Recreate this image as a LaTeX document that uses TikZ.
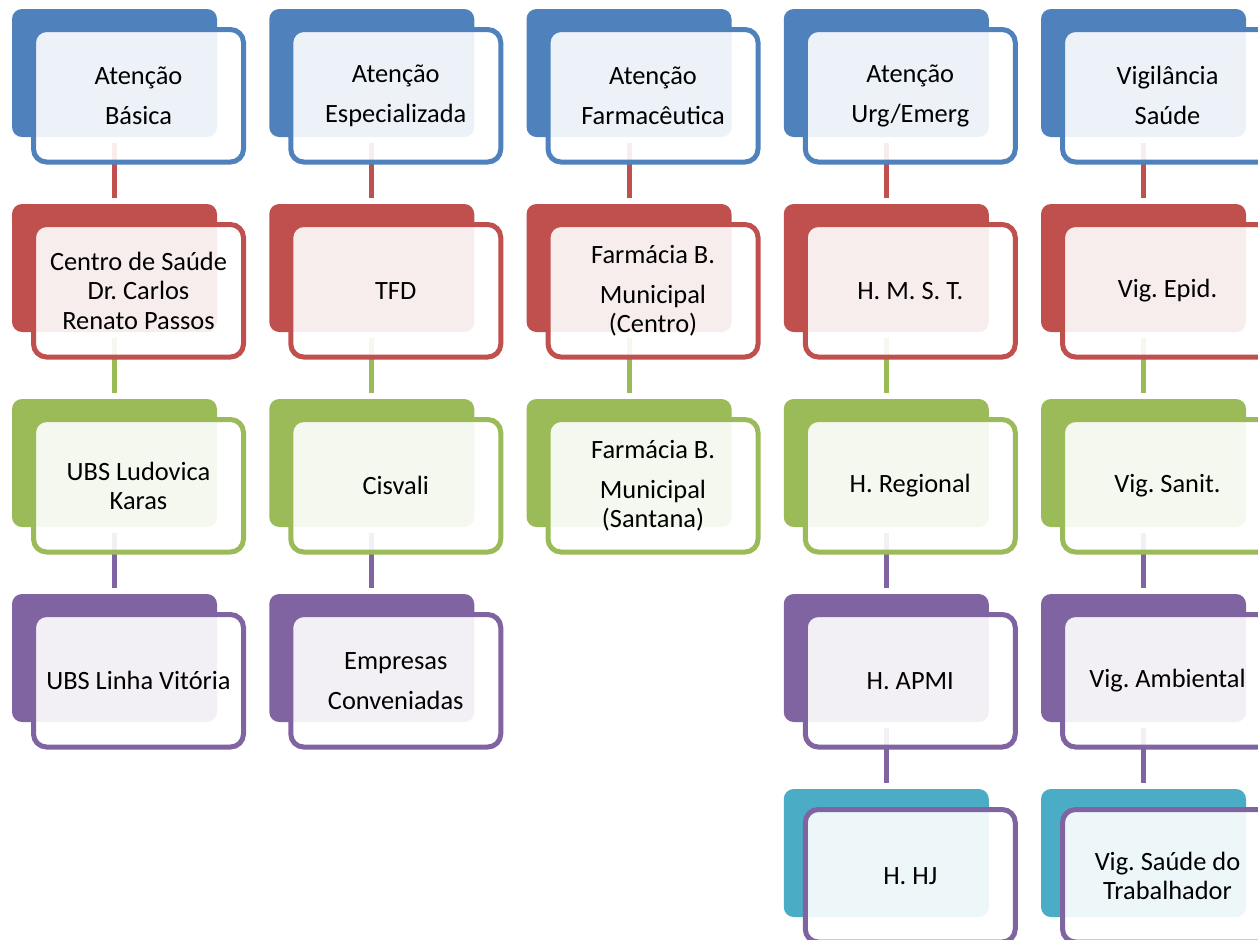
\documentclass[tikz,border=0pt]{standalone}
\usepackage{fontspec}
\setmainfont{Carlito}
\frenchspacing

\definecolor{azul}{HTML}{4F81BD}
\definecolor{verm}{HTML}{C0504D}
\definecolor{verde}{HTML}{9BBB59}
\definecolor{roxo}{HTML}{8064A2}
\definecolor{aqua}{HTML}{4BACC6}

\tikzset{
  fundo/.style={rounded corners=5pt, minimum width=102.5pt, minimum height=64pt, inner sep=0pt, outer sep=0pt},
  caixa/.style={draw, line width=2.5pt, fill=white, fill opacity=0.9, text opacity=1,
    rounded corners=6.5pt, minimum width=105pt, minimum height=66.25pt, inner sep=0pt,
    align=center, font=\fontsize{13.2}{14.75}\selectfont},
  liga/.style={line width=2.5pt, shorten <=3pt, shorten >=3pt},
}

\begin{document}
\begin{tikzpicture}[x=0.5pt, y=-0.5pt]
    \useasboundingbox (0,0) rectangle (1258,939);
    \clip (0,0) rectangle (1258,939);

    % ===== Atenção Básica =====
    \def\xA{114.5}
    \node[fundo, fill=azul] (a1) at (\xA, 73) {};
    \node[fundo, fill=verm] (a2) at (\xA, 268) {};
    \node[fundo, fill=verde] (a3) at (\xA, 463) {};
    \node[fundo, fill=roxo] (a4) at (\xA, 658) {};
    \draw[liga, verm] (a1.south) -- (a2.north);
    \draw[liga, verde] (a2.south) -- (a3.north);
    \draw[liga, roxo] (a3.south) -- (a4.north);
    \node[caixa, draw=azul] (ta1) at (\xA+24, 95.75) {Atenção\\[5.25pt] Básica};
    \node[caixa, draw=verm] (ta2) at (\xA+24, 290.75) {Centro de Saúde\\ Dr. Carlos\\ Renato Passos};
    \node[caixa, draw=verde] (ta3) at (\xA+24, 485.75) {UBS Ludovica\\ Karas};
    \node[caixa, draw=roxo] (ta4) at (\xA+24, 680.75) {UBS Linha Vitória};

    % ===== Atenção Especializada =====
    \def\xB{371.75}
    \node[fundo, fill=azul] (b1) at (\xB, 73) {};
    \node[fundo, fill=verm] (b2) at (\xB, 268) {};
    \node[fundo, fill=verde] (b3) at (\xB, 463) {};
    \node[fundo, fill=roxo] (b4) at (\xB, 658) {};
    \draw[liga, verm] (b1.south) -- (b2.north);
    \draw[liga, verde] (b2.south) -- (b3.north);
    \draw[liga, roxo] (b3.south) -- (b4.north);
    \node[caixa, draw=azul] (tb1) at (\xB+24, 95.75) {Atenção\\[5.25pt] Especializada};
    \node[caixa, draw=verm] (tb2) at (\xB+24, 290.75) {TFD};
    \node[caixa, draw=verde] (tb3) at (\xB+24, 485.75) {Cisvali};
    \node[caixa, draw=roxo] (tb4) at (\xB+24, 680.75) {Empresas\\[5.25pt] Conveniadas};

    % ===== Atenção Farmacêutica =====
    \def\xC{629}
    \node[fundo, fill=azul] (c1) at (\xC, 73) {};
    \node[fundo, fill=verm] (c2) at (\xC, 268) {};
    \node[fundo, fill=verde] (c3) at (\xC, 463) {};
    \draw[liga, verm] (c1.south) -- (c2.north);
    \draw[liga, verde] (c2.south) -- (c3.north);
    \node[caixa, draw=azul] (tc1) at (\xC+24, 95.75) {Atenção\\[5.25pt] Farmacêutica};
    \node[caixa, draw=verm] (tc2) at (\xC+24, 290.75) {Farmácia B.\\[5.25pt] Municipal\\ (Centro)};
    \node[caixa, draw=verde] (tc3) at (\xC+24, 485.75) {Farmácia B.\\[5.25pt] Municipal\\ (Santana)};

    % ===== Atenção Urg/Emerg =====
    \def\xD{886.25}
    \node[fundo, fill=azul] (d1) at (\xD, 73) {};
    \node[fundo, fill=verm] (d2) at (\xD, 268) {};
    \node[fundo, fill=verde] (d3) at (\xD, 463) {};
    \node[fundo, fill=roxo] (d4) at (\xD, 658) {};
    \node[fundo, fill=aqua] (d5) at (\xD, 853) {};
    \draw[liga, verm] (d1.south) -- (d2.north);
    \draw[liga, verde] (d2.south) -- (d3.north);
    \draw[liga, roxo] (d3.south) -- (d4.north);
    \draw[liga, roxo] (d4.south) -- (d5.north);
    \node[caixa, draw=azul] (td1) at (\xD+24, 95.75) {Atenção\\[5.25pt] Urg/Emerg};
    \node[caixa, draw=verm] (td2) at (\xD+24, 290.75) {H. M. S. T.};
    \node[caixa, draw=verde] (td3) at (\xD+24, 485.75) {H. Regional};
    \node[caixa, draw=roxo] (td4) at (\xD+24, 680.75) {H. APMI};
    \node[caixa, draw=roxo] (td5) at (\xD+24, 875.75) {H. HJ};

    % ===== Vigilância Saúde =====
    \def\xE{1143.5}
    \node[fundo, fill=azul] (e1) at (\xE, 73) {};
    \node[fundo, fill=verm] (e2) at (\xE, 268) {};
    \node[fundo, fill=verde] (e3) at (\xE, 463) {};
    \node[fundo, fill=roxo] (e4) at (\xE, 658) {};
    \node[fundo, fill=aqua] (e5) at (\xE, 853) {};
    \draw[liga, verm] (e1.south) -- (e2.north);
    \draw[liga, verde] (e2.south) -- (e3.north);
    \draw[liga, roxo] (e3.south) -- (e4.north);
    \draw[liga, roxo] (e4.south) -- (e5.north);
    \node[caixa, draw=azul] (te1) at (\xE+24, 95.75) {Vigilância\\[5.25pt] Saúde};
    \node[caixa, draw=verm] (te2) at (\xE+24, 290.75) {Vig. Epid.};
    \node[caixa, draw=verde] (te3) at (\xE+24, 485.75) {Vig. Sanit.};
    \node[caixa, draw=roxo] (te4) at (\xE+24, 680.75) {Vig. Ambiental};
    \node[caixa, draw=roxo] (te5) at (\xE+24, 875.75) {Vig. Saúde do\\ Trabalhador};
\end{tikzpicture}
\end{document}
